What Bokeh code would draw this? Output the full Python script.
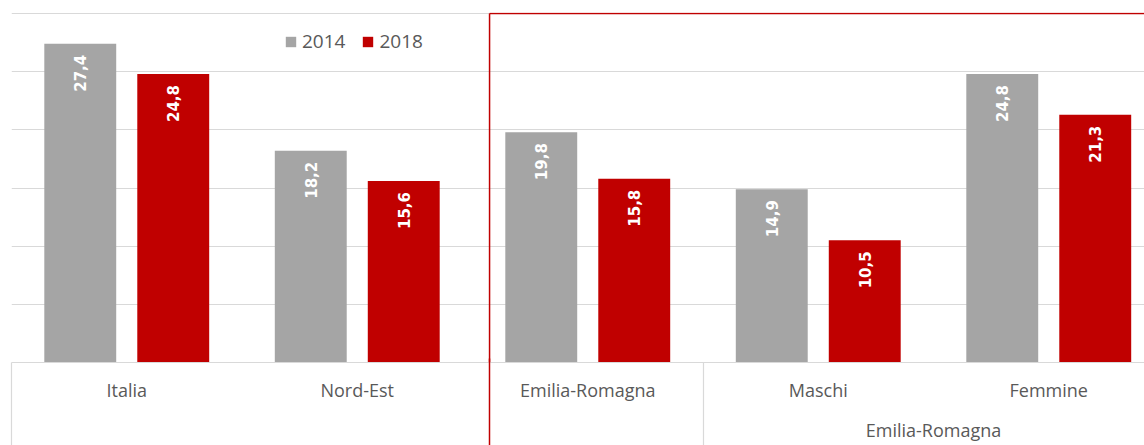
import numpy as np
from bokeh.plotting import figure
from bokeh.models import (Range1d, FixedTicker, LinearAxis, Legend, LegendItem,
                          ColumnDataSource, Grid)
from bokeh.core.properties import value
from bokeh.embed import file_html
from bokeh.resources import INLINE

# ---------------- data ----------------
categories = ["Italia", "Nord-Est", "Emilia-Romagna", "Maschi", "Femmine"]
group_label = "Emilia-Romagna"
group_members = ["Maschi", "Femmine"]
series_names = ["2014", "2018"]
values_2014 = [27.4, 18.2, 19.8, 14.9, 24.8]
values_2018 = [24.8, 15.6, 15.8, 10.5, 21.3]
y_ticks = [0, 5, 10, 15, 20, 25, 30]

# ---------------- style ----------------
GRAY = "#a5a5a5"
RED = "#c00000"
GRID = "#d9d9d9"
TEXT = "#595959"
FONT = "Open Sans"
LABEL_FONT = "DejaVu Sans"

xs = list(range(len(categories)))
off = 0.2017
bw = 0.312


def fmt(v):
    return f"{v:.1f}".replace(".", ",")


src = ColumnDataSource(dict(
    x1=[x - off for x in xs], x2=[x + off for x in xs],
    v1=values_2014, v2=values_2018,
    l1=[fmt(v) for v in values_2014], l2=[fmt(v) for v in values_2018],
))

x_end = -0.5 + 1133 / 230.5
p = figure(width=1144, height=445, output_backend="svg", toolbar_location=None,
           x_range=Range1d(-0.5, x_end), y_range=Range1d(0, 30.086),
           min_border_left=11, min_border_right=0, min_border_top=12,
           min_border_bottom=83, x_axis_type=None, y_axis_type=None)
p.outline_line_color = None
p.background_fill_color = "white"
p.border_fill_color = "white"

grid = Grid(dimension=1, ticker=FixedTicker(ticks=y_ticks),
            grid_line_color=GRID, grid_line_width=1.2)
p.add_layout(grid)

r1 = p.vbar(x="x1", top="v1", width=bw, source=src, fill_color=GRAY, line_color=None)
r2 = p.vbar(x="x2", top="v2", width=bw, source=src, fill_color=RED, line_color=None)

for xc, vc, lc in (("x1", "v1", "l1"), ("x2", "v2", "l2")):
    p.text(x=xc, y=vc, text=lc, source=src, angle=np.pi / 2,
           text_align="right", text_baseline="middle", y_offset=11,
           text_color="white", text_font=value(LABEL_FONT),
           text_font_style="bold", text_font_size="15px")

# red frame (shape overlay)
red_x = 1.574
p.segment(x0=[red_x], y0=[y_ticks[-1]], x1=[x_end + 1], y1=[y_ticks[-1]],
          line_color=RED, line_width=1.5)
p.segment(x0=[red_x], y0=[0], x1=[red_x], y1=[y_ticks[-1]],
          line_color=RED, line_width=1.5)

# category axis (first level) with separators as minor ticks
sep_ticks = [-0.5, 2.5]
ax1 = LinearAxis(ticker=FixedTicker(ticks=xs, minor_ticks=sep_ticks),
                 major_label_overrides={i: c for i, c in zip(xs, categories)},
                 axis_line_color=GRID, axis_line_width=1.2,
                 major_tick_line_color=None, major_tick_in=0, major_tick_out=0,
                 minor_tick_line_color=GRID, minor_tick_line_width=1.2,
                 minor_tick_in=0, minor_tick_out=83,
                 major_label_standoff=-68,
                 major_label_text_font=FONT, major_label_text_font_size="18px",
                 major_label_text_color=TEXT)
p.add_layout(ax1, "below")

group_x = float(np.mean([categories.index(m) for m in group_members]))
ax2 = LinearAxis(ticker=FixedTicker(ticks=[group_x], minor_ticks=[red_x]),
                 major_label_overrides={group_x: group_label},
                 axis_line_color=None,
                 major_tick_line_color=None, major_tick_in=0, major_tick_out=0,
                 minor_tick_line_color=RED, minor_tick_line_width=1.5,
                 minor_tick_in=46, minor_tick_out=46,
                 major_label_standoff=-33,
                 major_label_text_font=FONT, major_label_text_font_size="18px",
                 major_label_text_color=TEXT)
p.add_layout(ax2, "below")

legend = Legend(items=[LegendItem(label=series_names[0], renderers=[r1]),
                       LegendItem(label=series_names[1], renderers=[r2])],
                orientation="horizontal", location=(273, 308),
                glyph_width=13, glyph_height=13, label_standoff=5, spacing=16,
                padding=0, margin=0, border_line_color=None,
                background_fill_alpha=0,
                label_text_font=FONT, label_text_font_size="19px",
                label_text_color=TEXT)
p.add_layout(legend)

open("out.html", "w").write(file_html(p, INLINE))
